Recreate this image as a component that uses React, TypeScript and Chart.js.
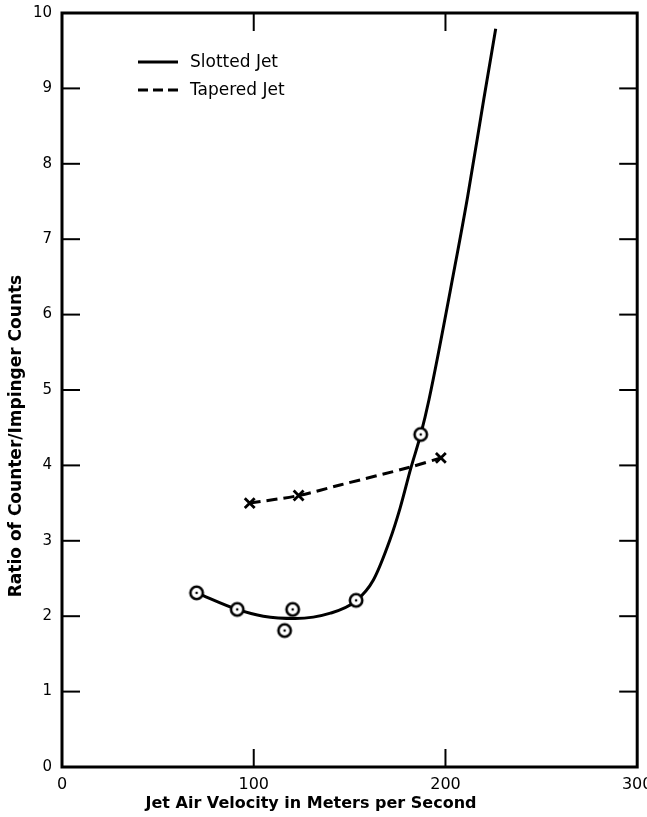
import React, { useEffect, useRef } from "react";
import { Chart, registerables } from "chart.js";

Chart.register(...registerables);

// ---- Data ----
const slottedObsX = [70.2, 91.4, 116.1, 120.3, 153.4, 187.1];
const slottedObsY = [2.31, 2.09, 1.81, 2.09, 2.21, 4.41];

const slottedCurveX = [70.2, 91.4, 105, 121.7, 140, 153.2, 162.4, 171, 176.3, 181.9, 187.1, 191.4, 204.9, 211.6, 220, 226.2];
const slottedCurveY = [2.31, 2.09, 2.0, 1.97, 2.04, 2.2, 2.48, 3.01, 3.43, 3.96, 4.41, 4.87, 6.64, 7.57, 8.86, 9.79];

const taperedObsX = [97.9, 123.4, 197.6];
const taperedObsY = [3.5, 3.6, 4.1];

const taperedCurveX = [97.9, 123.4, 145, 182, 197.6];
const taperedCurveY = [3.5, 3.6, 3.74, 3.98, 4.1];

const xTickValues = [0, 100, 200, 300];
const yTickValues = [0, 1, 2, 3, 4, 5, 6, 7, 8, 9, 10];

const seriesLabels = ["Slotted Jet", "Tapered Jet"];
const xTitle = "Jet Air Velocity in Meters per Second";
const yTitle = "Ratio of Counter/Impinger Counts";

const pts = (xs: number[], ys: number[]) => xs.map((x, i) => ({ x, y: ys[i] }));

export default function App() {
  const ref = useRef<HTMLCanvasElement | null>(null);

  useEffect(() => {
    if (!ref.current) return;

    const marker = document.createElement("canvas");
    marker.width = 18;
    marker.height = 18;
    const g = marker.getContext("2d")!;
    g.lineWidth = 2.6;
    g.strokeStyle = "#000";
    g.fillStyle = "#fff";
    g.beginPath();
    g.arc(9, 9, 6.2, 0, Math.PI * 2);
    g.fill();
    g.stroke();
    g.fillStyle = "#000";
    g.beginPath();
    g.arc(9, 9, 1.3, 0, Math.PI * 2);
    g.fill();

    const decor = {
      id: "decor",
      afterDraw(chart: any) {
        const { ctx, chartArea: a, scales } = chart;
        const xs = scales.x;
        const ys = scales.y;
        ctx.save();
        ctx.strokeStyle = "#000";
        ctx.fillStyle = "#000";
        const line = (x1: number, y1: number, x2: number, y2: number) => {
          ctx.beginPath();
          ctx.moveTo(x1, y1);
          ctx.lineTo(x2, y2);
          ctx.stroke();
        };
        // frame
        ctx.lineWidth = 3;
        ctx.strokeRect(a.left, a.top, a.right - a.left, a.bottom - a.top);
        // inward ticks
        ctx.lineWidth = 2;
        const L = 18;
        const yMin = yTickValues[0], yMax = yTickValues[yTickValues.length - 1];
        yTickValues.filter((v) => v > yMin && v < yMax).forEach((v) => {
          const py = ys.getPixelForValue(v);
          line(a.left, py, a.left + L, py);
          line(a.right - L, py, a.right, py);
        });
        const xMin = xTickValues[0], xMax = xTickValues[xTickValues.length - 1];
        xTickValues.filter((v) => v > xMin && v < xMax).forEach((v) => {
          const px = xs.getPixelForValue(v);
          line(px, a.bottom, px, a.bottom - L);
          line(px, a.top, px, a.top + L);
        });
        // legend
        const lx1 = a.left + 76, lx2 = a.left + 116, tx = a.left + 128;
        const rows = [a.top + 49, a.top + 77];
        ctx.lineWidth = 3;
        ctx.setLineDash([]);
        line(lx1, rows[0], lx2, rows[0]);
        ctx.setLineDash([10, 5]);
        line(lx1, rows[1], lx2 + 2, rows[1]);
        ctx.setLineDash([]);
        ctx.font = "17px 'DejaVu Sans'";
        ctx.textAlign = "left";
        ctx.textBaseline = "middle";
        ctx.fillText(chart.data.datasets[0].label, tx, rows[0] + 1);
        ctx.fillText(chart.data.datasets[1].label, tx, rows[1] + 1);
        // axis titles
        ctx.font = "bold 16px 'DejaVu Sans'";
        ctx.textAlign = "center";
        ctx.fillText(xTitle, 311, 804);
        ctx.font = "bold 17px 'DejaVu Sans'";
        ctx.translate(17, 436);
        ctx.rotate(-Math.PI / 2);
        ctx.fillText(yTitle, 0, 0);
        ctx.restore();
      },
    };

    const chart = new Chart(ref.current, {
      type: "line",
      data: {
        datasets: [
          {
            label: seriesLabels[0],
            data: pts(slottedCurveX, slottedCurveY),
            borderColor: "#000",
            borderWidth: 3,
            pointRadius: 0,
            cubicInterpolationMode: "monotone",
            fill: false,
            order: 2,
          },
          {
            label: seriesLabels[1],
            data: pts(taperedCurveX, taperedCurveY),
            borderColor: "#000",
            borderWidth: 3,
            borderDash: [11, 6],
            pointRadius: 0,
            tension: 0.3,
            fill: false,
            order: 2,
          },
          {
            label: seriesLabels[0] + " data",
            data: pts(slottedObsX, slottedObsY),
            showLine: false,
            pointStyle: marker as any,
            pointRadius: 8,
            order: 0,
          },
          {
            label: seriesLabels[1] + " data",
            data: pts(taperedObsX, taperedObsY),
            showLine: false,
            pointStyle: "crossRot",
            pointRadius: 7,
            borderColor: "#000",
            borderWidth: 2.8,
            order: 0,
          },
        ],
      },
      options: {
        animation: false,
        responsive: true,
        maintainAspectRatio: false,
        layout: { padding: { left: 0, right: 9, top: 13, bottom: 0 } },
        plugins: { legend: { display: false }, tooltip: { enabled: false } },
        scales: {
          x: {
            type: "linear",
            min: xTickValues[0],
            max: xTickValues[xTickValues.length - 1],
            grid: { display: false, drawTicks: false },
            border: { display: false },
            afterBuildTicks: (s: any) => {
              s.ticks = xTickValues.map((v) => ({ value: v }));
            },
            ticks: {
              color: "#000",
              padding: 8,
              maxRotation: 0,
              font: { family: "'DejaVu Sans'", size: 16 },
            },
            afterFit: (s: any) => {
              s.height = 50;
              s.paddingLeft = 0;
              s.paddingRight = 0;
            },
          },
          y: {
            type: "linear",
            min: yTickValues[0],
            max: yTickValues[yTickValues.length - 1],
            grid: { display: false, drawTicks: false },
            border: { display: false },
            afterBuildTicks: (s: any) => {
              s.ticks = yTickValues.map((v) => ({ value: v }));
            },
            ticks: {
              color: "#000",
              padding: 10,
              font: { family: "'DejaVu Sans'", size: 15 },
            },
            afterFit: (s: any) => {
              s.width = 62;
              s.paddingTop = 0;
              s.paddingBottom = 0;
            },
          },
        },
      },
      plugins: [decor],
    } as any);

    return () => chart.destroy();
  }, []);

  return (
    <div style={{ position: "absolute", left: 0, top: 0, width: 647, height: 817, background: "#fff" }}>
      <canvas ref={ref} />
    </div>
  );
}
